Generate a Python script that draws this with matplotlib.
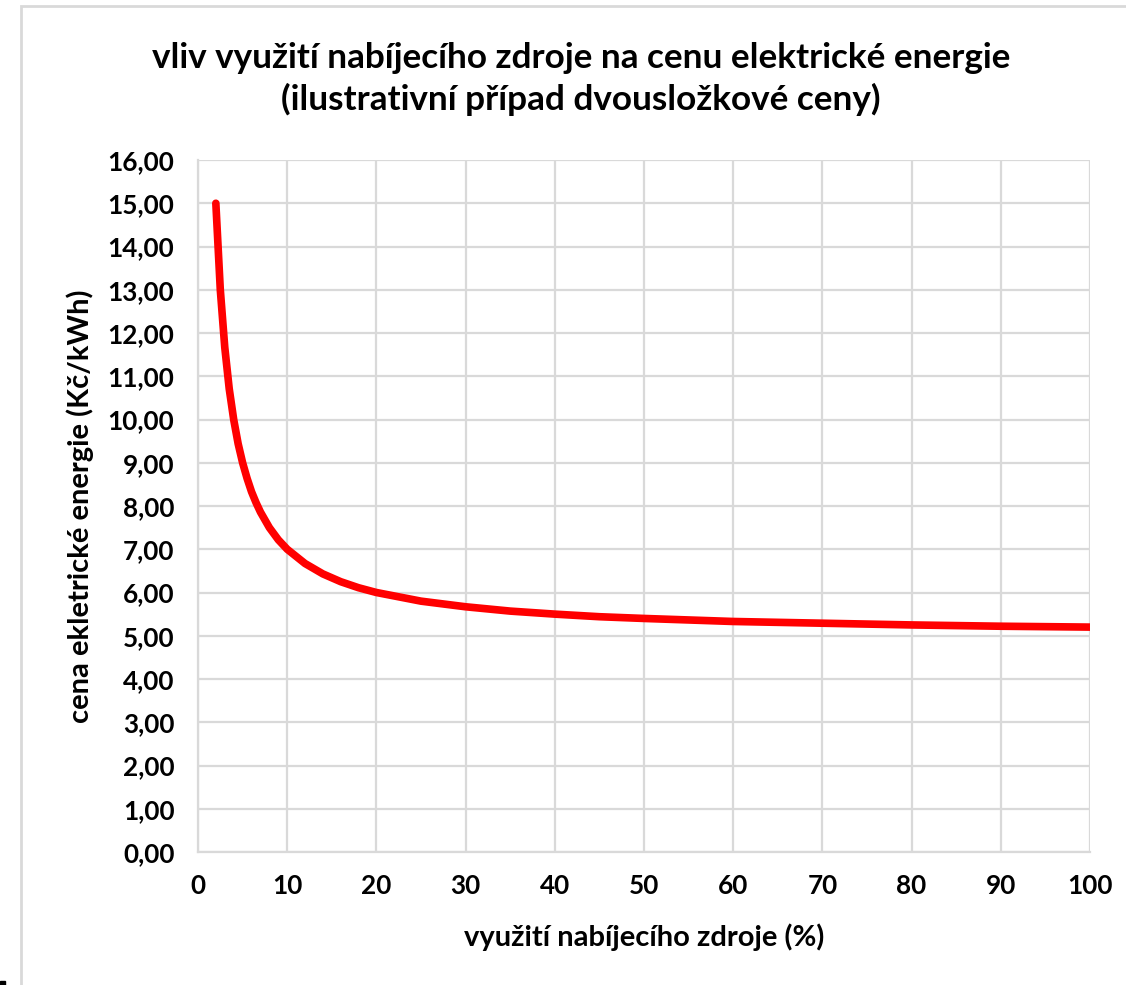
import matplotlib.pyplot as plt
from matplotlib.ticker import FuncFormatter, MultipleLocator
from matplotlib.patches import Rectangle

# hodnoty
vyuziti = [2, 2.5, 3, 3.5, 4, 4.5, 5, 5.5, 6, 6.5, 7, 8, 9, 10, 12, 14, 16,
           18, 20, 25, 30, 35, 40, 45, 50, 60, 70, 80, 90, 100]
cena = [15.0, 13.0, 11.67, 10.71, 10.0, 9.44, 9.0, 8.64, 8.33, 8.08, 7.86,
        7.5, 7.22, 7.0, 6.67, 6.43, 6.25, 6.11, 6.0, 5.8, 5.67, 5.57, 5.5,
        5.44, 5.4, 5.33, 5.29, 5.25, 5.22, 5.2]

titulek = 'vliv využití nabíjecího zdroje na cenu elektrické energie\n(ilustrativní případ dvousložkové ceny)'
popis_x = 'využití nabíjecího zdroje (%)'
popis_y = 'cena ekletrické energie (Kč/kWh)'

plt.rcParams['font.family'] = ['Lato', 'DejaVu Sans']
plt.rcParams['font.weight'] = 'bold'

fig = plt.figure(figsize=(11.26, 9.85), dpi=100)
# rámeček oblasti grafu (oříznutý vpravo a dole)
fig.patches.append(Rectangle((21 / 1126, -0.1), 1.2, 1.1 - 6 / 985,
                             transform=fig.transFigure, fill=False,
                             edgecolor='#d9d9d9', linewidth=2))
# malý černý zbytek v levém dolním rohu
fig.patches.append(Rectangle((0, 0), 5 / 1126, 4 / 985,
                             transform=fig.transFigure, color='black'))

ax = fig.add_axes([198 / 1126, 1 - 852 / 985, (1090 - 198) / 1126, (852 - 160) / 985])
ax.plot(vyuziti, cena, color='#ff0000', linewidth=5.5, solid_capstyle='round',
        solid_joinstyle='round', zorder=3)

ax.set_xlim(0, 100)
ax.set_ylim(0, 16)
ax.xaxis.set_major_locator(MultipleLocator(10))
ax.yaxis.set_major_locator(MultipleLocator(1))
ax.yaxis.set_major_formatter(FuncFormatter(lambda v, p: f'{v:.2f}'.replace('.', ',')))
ax.grid(True, color='#d9d9d9', linewidth=1.6)
ax.set_axisbelow(True)
for s in ['top', 'right']:
    ax.spines[s].set_visible(False)
for s in ['left', 'bottom']:
    ax.spines[s].set_color('#d9d9d9')
    ax.spines[s].set_linewidth(1.6)
ax.tick_params(length=0, labelsize=18.8, pad=17)
ax.tick_params(axis='x', pad=16)
for lab in ax.get_xticklabels() + ax.get_yticklabels():
    lab.set_fontweight('bold')

ax.set_xlabel(popis_x, fontsize=21, fontweight='bold', labelpad=18)
ax.set_ylabel(popis_y, fontsize=21, fontweight='bold', labelpad=10)
fig.text(0.516, 1 - 79 / 985, titulek, ha='center', va='center',
         fontsize=25.3, fontweight='bold', linespacing=1.33)

fig.savefig('out.png', dpi=100)
